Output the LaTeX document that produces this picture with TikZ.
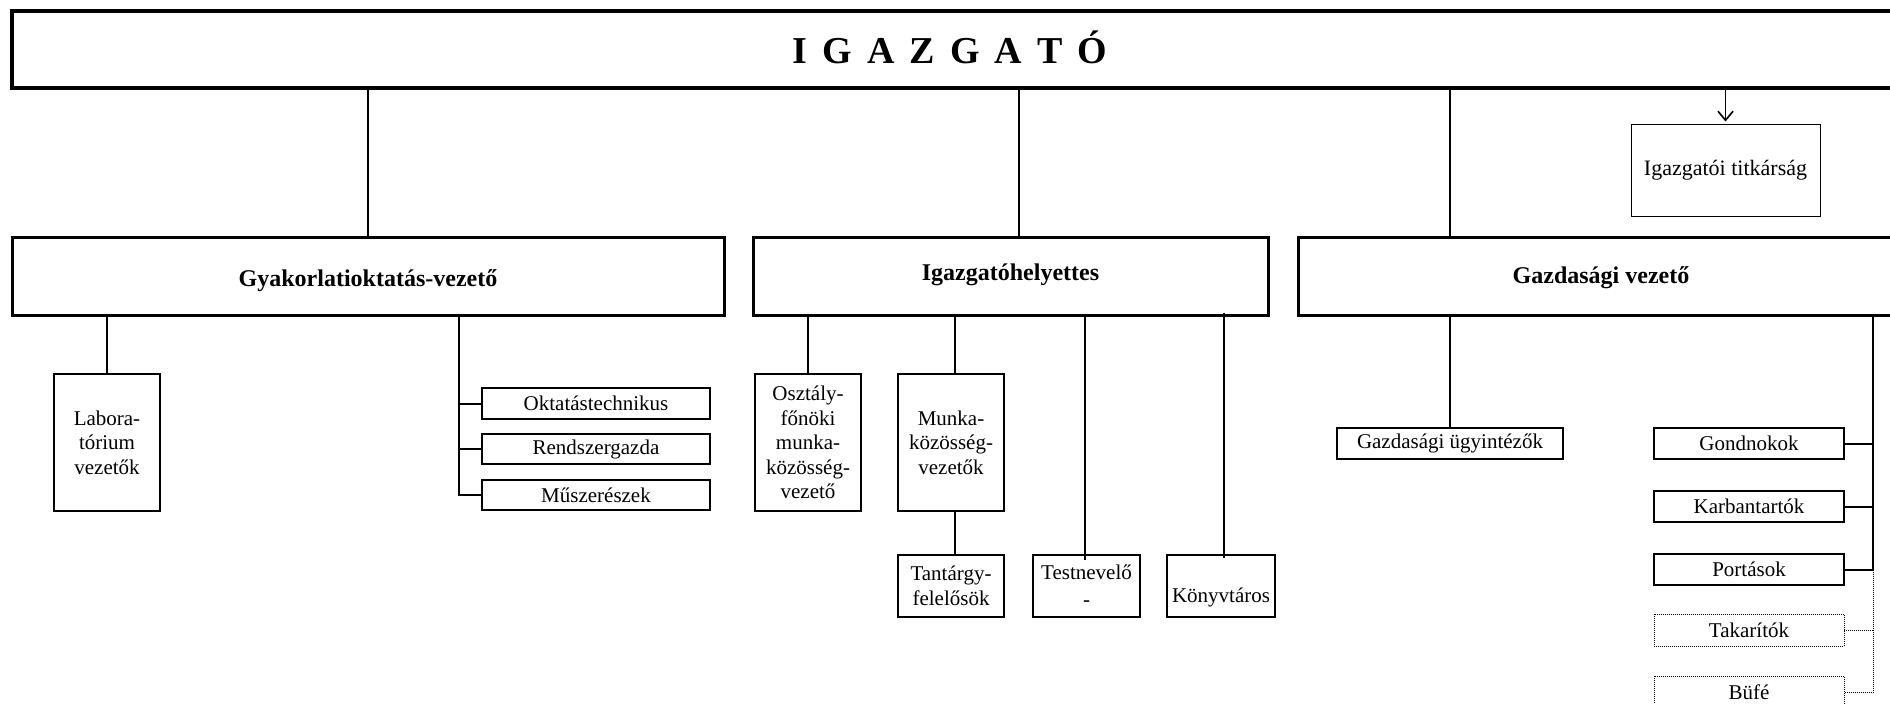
\documentclass[tikz,border=0pt]{standalone}
\usepackage{fontspec}
\setmainfont{Liberation Serif}
\usetikzlibrary{arrows.meta,calc}
\begin{document}
\begin{tikzpicture}[x=1pt,y=-1pt,
 conn/.style={line width=2pt},
 dconn/.style={line width=0.9pt, dash pattern=on 1pt off 1pt},
 bigbox/.style={draw, line width=3pt, minimum height=78pt, inner sep=0pt},
 btxt/.style={inner sep=0pt, font=\bfseries\fontsize{24}{28}\selectfont},
 sbox/.style={draw, line width=2.8pt, inner sep=0pt, align=center, font=\fontsize{21}{24.5}\selectfont},
 dbox/.style={draw, line width=0.9pt, dash pattern=on 1pt off 1pt, inner sep=0pt, font=\fontsize{21}{24.5}\selectfont},
 txt/.style={inner sep=0pt, font=\fontsize{21}{24.5}\selectfont},
]
\useasboundingbox (0,0) rectangle (1890,704);
\clip (0,0) rectangle (1890,704);

% top
\node[draw, line width=4.5pt, minimum width=1890pt, minimum height=77pt, inner sep=0pt] (dir) at (957,49.5) {};
\node[anchor=base, inner sep=0pt, font=\bfseries\fontsize{38}{40}\selectfont] (title) at (950,63)
 {I\hspace{15pt}G\hspace{15pt}A\hspace{15pt}Z\hspace{15pt}G\hspace{15pt}A\hspace{15pt}T\hspace{15pt}Ó};
\node[draw, line width=1pt, minimum width=189pt, minimum height=92pt, inner sep=0pt, font=\fontsize{22}{26}\selectfont] (titk) at (1725.5,170) {Igazgatói titkárság};

% level 2
\node[bigbox, minimum width=712pt] (gyak) at (368,276) {};
\node[btxt] (gyakt) at ($(gyak.center)+(0,5)$) {Gyakorlatioktatás-vezető};
\node[bigbox, minimum width=515pt] (ih) at (1010.5,276) {};
\node[btxt] (iht) at ($(ih.center)+(0,-1)$) {Igazgatóhelyettes};
\node[bigbox, minimum width=606pt] (gv) at (1601,276) {};
\node[btxt] (gvt) at ($(gv.center)+(0,2)$) {Gazdasági vezető};

% gyak children
\node[sbox, minimum width=106pt, minimum height=137pt] (lab) at (107,442.5) {Labora-\\tórium\\vezetők};
\node[sbox, minimum width=228pt, minimum height=31pt] (okt) at (596,403.5) {Oktatástechnikus};
\node[sbox, minimum width=228pt, minimum height=30pt] (rend) at (596,449) {Rendszergazda};
\node[sbox, minimum width=228pt, minimum height=30pt] (musz) at (596,495) {Műszerészek};

% ih children
\node[sbox, minimum width=106pt, minimum height=137pt] (osz) at (808,442.5) {Osztály-\\főnöki\\munka-\\közösség-\\vezető};
\node[sbox, minimum width=106pt, minimum height=137pt] (munka) at (951,442.5) {Munka-\\közösség-\\vezetők};
\node[sbox, minimum width=106pt, minimum height=62pt] (tant) at (951,586) {Tantárgy-\\felelősök};
\node[sbox, minimum width=107pt, minimum height=62pt, font=\fontsize{21}{27}\selectfont] (test) at (1086.5,586) {Testnevelő\\-};
\node[sbox, minimum width=108pt, minimum height=62pt] (konyv) at (1221,586) {};
\node[txt] (konyvt) at ($(konyv.center)+(0,11)$) {Könyvtáros};

% gv children
\node[sbox, minimum width=226pt, minimum height=31pt] (gu) at (1450,443.5) {Gazdasági ügyintézők};
\node[sbox, minimum width=190pt, minimum height=31pt] (gond) at (1749,443.5) {Gondnokok};
\node[sbox, minimum width=190pt, minimum height=31pt] (karb) at (1749,506.5) {Karbantartók};
\node[sbox, minimum width=190pt, minimum height=31pt] (port) at (1749,569.5) {Portások};
\node[dbox, minimum width=190pt, minimum height=32pt] (tak) at (1749,630) {Takarítók};
\node[dbox, minimum width=190pt, minimum height=32pt] (bufe) at (1749,692) {Büfé};

% coordinates
\coordinate (xih) at (1019,0);
\coordinate (xgv) at (1450,0);
\coordinate (xg2) at (459,0);
\coordinate (xm) at (955,0);
\coordinate (xt) at (1085,0);
\coordinate (xk) at (1224,0);
\coordinate (xr) at (1873,0);

% top connectors
\draw[conn] (gyak.north) -- (gyak.north |- dir.south);
\draw[conn] (ih.north -| xih) -- (dir.south -| xih);
\draw[conn] (gv.north -| xgv) -- (dir.south -| xgv);
\draw[line width=1.6pt, -{Straight Barb[length=9pt,width=15pt,line width=1.6pt]}, shorten >=2pt] (dir.south -| titk.north) -- (titk.north);

% gyak connectors
\draw[conn] (lab.north) -- (lab.north |- gyak.south);
\draw[conn] (gyak.south -| xg2) -- (musz.west -| xg2) -- (musz.west);
\draw[conn] (okt.west) -- (okt.west -| xg2);
\draw[conn] (rend.west) -- (rend.west -| xg2);

% ih connectors
\draw[conn] (osz.north) -- (osz.north |- ih.south);
\draw[conn] (munka.north -| xm) -- (ih.south -| xm);
\draw[conn] (munka.south -| xm) -- (tant.north -| xm);
\draw[conn] (ih.south -| xt) -- ($(test.north -| xt)+(0,6)$);
\draw[conn] ($(ih.south -| xk)+(0,-4)$) -- ($(konyv.north -| xk)+(0,4)$);

% gv connectors
\draw[conn] (gu.north) -- (gu.north |- gv.south);
\draw[conn] (gv.south -| xr) -- (port.east -| xr) -- (port.east);
\draw[conn] (gond.east) -- (gond.east -| xr);
\draw[conn] (karb.east) -- (karb.east -| xr);
\draw[dconn] (port.east -| xr) -- (bufe.east -| xr) -- (bufe.east);
\draw[dconn] (tak.east) -- (tak.east -| xr);
\end{tikzpicture}
\end{document}
